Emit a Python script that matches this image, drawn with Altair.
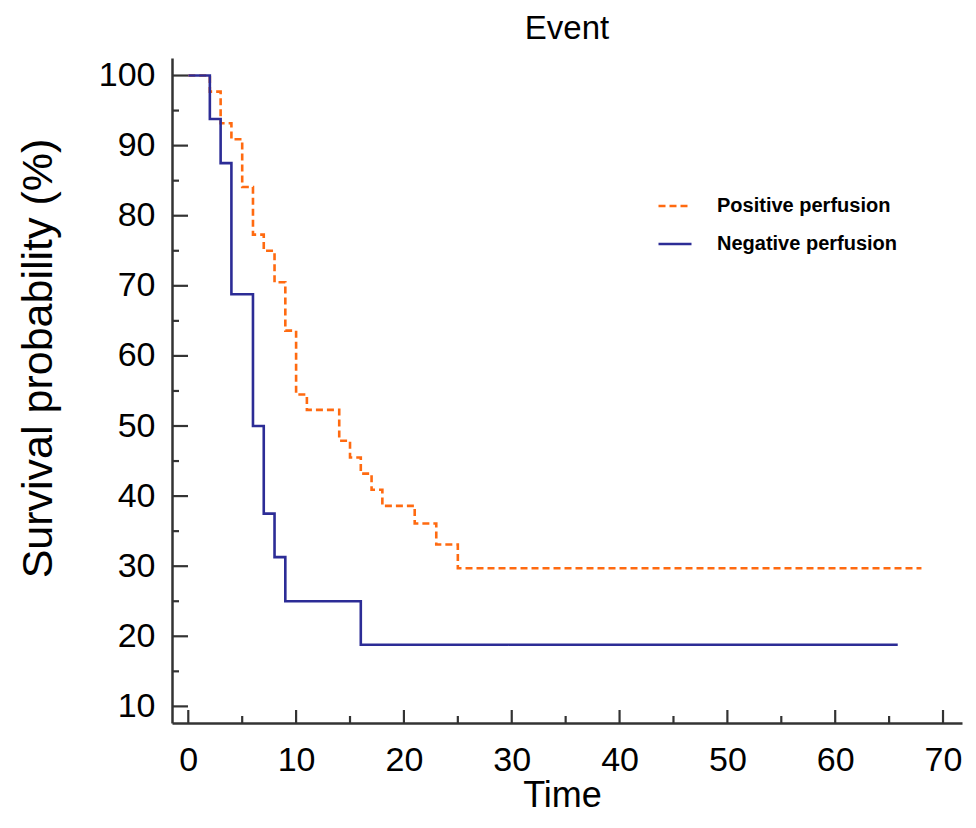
import altair as alt
import pandas as pd

# ---- data ----
series_names = ["Positive perfusion", "Negative perfusion"]

pos_time = [0, 2, 3, 4, 5, 6, 7, 8, 9, 10, 11, 14, 15, 16, 17, 18, 21, 23, 25, 68]
pos_surv = [100, 97.7, 93.2, 90.9, 84.1, 77.3, 75.0, 70.5, 63.6, 54.5, 52.3,
            47.9, 45.5, 43.2, 40.9, 38.6, 36.1, 33.1, 29.7, 29.7]

neg_time = [0, 2, 3, 4, 6, 7, 8, 9, 16, 65.8]
neg_surv = [100, 93.8, 87.5, 68.8, 50.0, 37.5, 31.3, 25.0, 18.8, 18.8]

x_ticks_major = [0, 10, 20, 30, 40, 50, 60, 70]
x_ticks_minor = [5, 15, 25, 35, 45, 55, 65]
y_ticks_major = [10, 20, 30, 40, 50, 60, 70, 80, 90, 100]
y_ticks_minor = [15, 25, 35, 45, 55, 65, 75, 85, 95]

# ---- styles ----
W, H = 790, 665
FONT = "Liberation Sans, Arial, Helvetica, sans-serif"
AXIS_COLOR = "#333333"
ORANGE = "#FF6A10"
BLUE = "#2C2C96"

rows = []
for t, s in zip(pos_time, pos_surv):
    rows.append({"group": series_names[0], "time": t, "surv": s})
for t, s in zip(neg_time, neg_surv):
    rows.append({"group": series_names[1], "time": t, "surv": s})
df = pd.DataFrame(rows)

x_scale = alt.Scale(domain=[-1.51, 71.76], nice=False, zero=False)
y_scale = alt.Scale(domain=[7.63, 102.5], nice=False, zero=False)

x_axis = alt.Axis(
    values=x_ticks_major, ticks=False, grid=False,
    domain=True, domainColor=AXIS_COLOR, domainWidth=2.5,
    labelFont=FONT, labelFontSize=34, labelColor="black", labelPadding=20,
    labelFlush=False, labelOverlap=False,
    title="Time", titleFont=FONT, titleFontSize=36, titleFontWeight="normal",
    titleColor="black", titleX=390, titleY=83, titleBaseline="alphabetic",
    titleAlign="center",
)
y_axis = alt.Axis(
    values=y_ticks_major, ticks=False, grid=False,
    domain=True, domainColor=AXIS_COLOR, domainWidth=2.5,
    labelFont=FONT, labelFontSize=34, labelColor="black", labelPadding=17,
    labelOverlap=False,
    title="Survival probability (%)", titleFont=FONT, titleFontSize=43,
    titleFontWeight="normal", titleColor="black",
    titleX=-134, titleY=300, titleAngle=270, titleBaseline="middle",
    titleAlign="center",
)

legend = alt.Legend(
    title=None, orient="none", legendX=485, legendY=130, padding=0,
    symbolType="stroke", symbolSize=1089, symbolStrokeWidth=2,
    labelFont=FONT, labelFontSize=20, labelFontWeight="bold", labelColor="black",
    labelOffset=24, rowPadding=10, labelLimit=400,
)

lines = alt.Chart(df).mark_line(interpolate="step-after", clip=True).encode(
    x=alt.X("time:Q", scale=x_scale, axis=x_axis),
    y=alt.Y("surv:Q", scale=y_scale, axis=y_axis),
    color=alt.Color("group:N", scale=alt.Scale(domain=series_names, range=[ORANGE, BLUE]),
                    legend=legend),
    strokeDash=alt.StrokeDash("group:N", scale=alt.Scale(domain=series_names,
                              range=[[7, 4], [1, 0]]), legend=legend),
    strokeWidth=alt.StrokeWidth("group:N", scale=alt.Scale(domain=series_names,
                                range=[2.6, 2.6]), legend=None),
)

def hticks(values, length):
    return alt.Chart(pd.DataFrame({"surv": values})).mark_rule(
        color=AXIS_COLOR, strokeWidth=2.2).encode(
        y=alt.Y("surv:Q", scale=y_scale, axis=y_axis),
        x=alt.value(0), x2=alt.value(length))

def vticks(values, length):
    return alt.Chart(pd.DataFrame({"time": values})).mark_rule(
        color=AXIS_COLOR, strokeWidth=2.2).encode(
        x=alt.X("time:Q", scale=x_scale, axis=x_axis),
        y=alt.value(H), y2=alt.value(H - length))

chart = alt.layer(
    lines,
    hticks(y_ticks_major, 16), hticks(y_ticks_minor, 7),
    vticks(x_ticks_major, 13), vticks(x_ticks_minor, 7),
).properties(
    width=W, height=H,
    background="white",
    title=alt.TitleParams("Event", font=FONT, fontSize=33, fontWeight="normal",
                          color="black", anchor="middle", frame="group",
                          baseline="top", offset=12),
    autosize=alt.AutoSizeParams(type="none"),
    padding={"left": 164, "top": 50, "right": 4, "bottom": 92},
).configure_view(stroke=None)

chart.save("out.html", embed_options={"renderer": "svg", "actions": False})
